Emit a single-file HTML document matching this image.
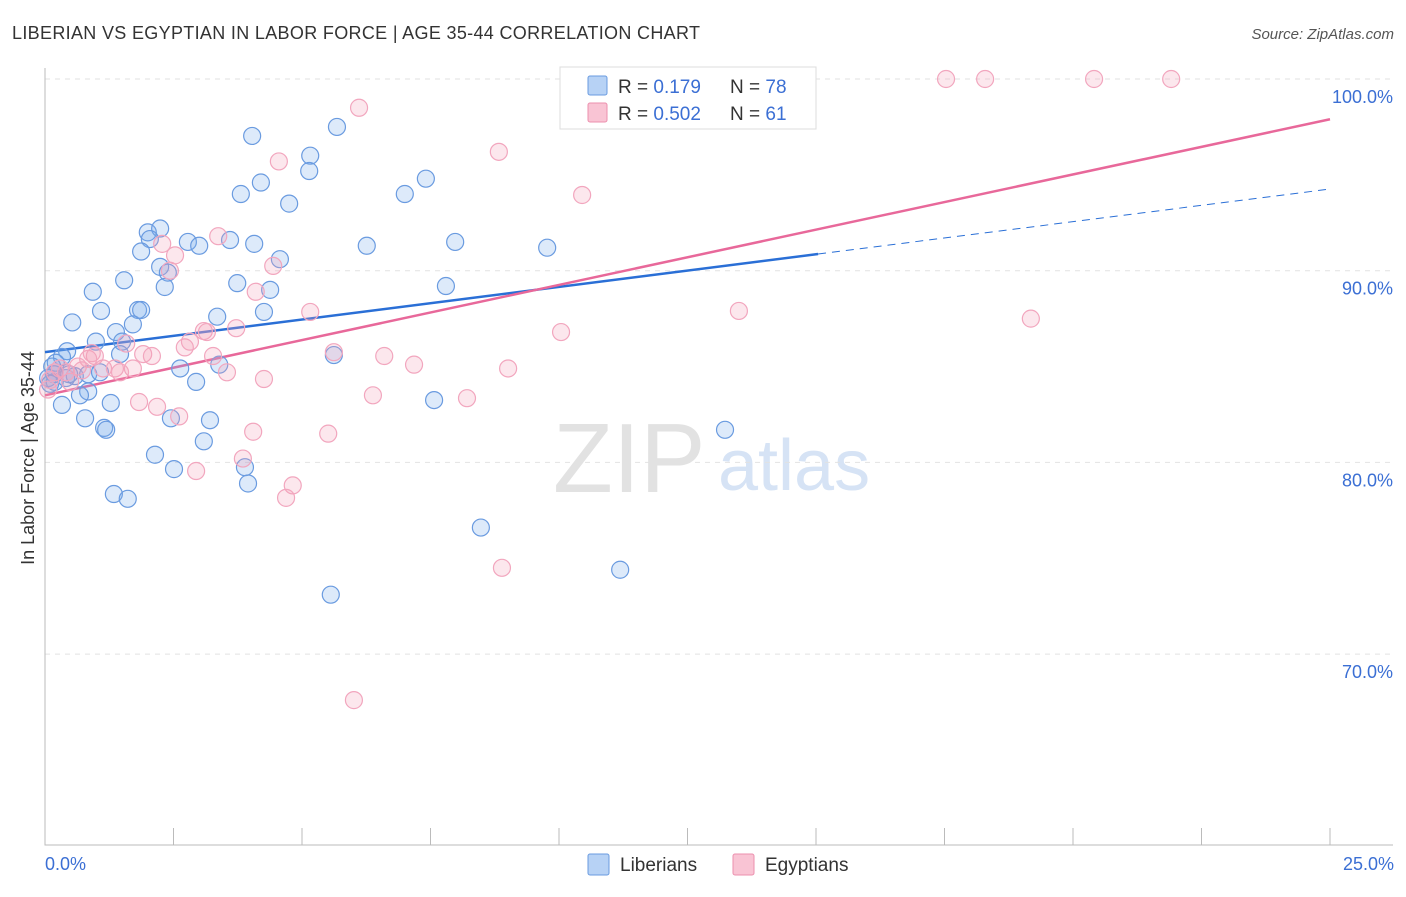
<!DOCTYPE html>
<html><head><meta charset="utf-8"><style>
body{margin:0;background:#fff;font-family:"Liberation Sans",sans-serif;}
svg text{font-family:"Liberation Sans",sans-serif;}
</style></head><body>
<svg id="chart" width="1406" height="892" xmlns="http://www.w3.org/2000/svg">
<text x="12" y="39" font-size="18" fill="#333" textLength="688">LIBERIAN VS EGYPTIAN IN LABOR FORCE | AGE 35-44 CORRELATION CHART</text>
<text x="1394" y="39" font-size="15" fill="#555" font-style="italic" text-anchor="end">Source: ZipAtlas.com</text>
<text x="553" y="492" font-size="98" fill="#e2e2e2" font-family="Liberation Serif">ZIP</text>
<text x="718" y="490" font-size="72" fill="#d6e3f5">atlas</text>
<g id="grid"></g><g id="axes"></g><g id="trends"></g><g id="pts"></g>
<text x="34" y="458" font-size="18" fill="#333" text-anchor="middle" transform="rotate(-90 34 458)">In Labor Force | Age 35-44</text>
<text x="45" y="870" font-size="18" fill="#3b6fd4">0.0%</text>
<text x="1394" y="870" font-size="18" fill="#3b6fd4" text-anchor="end">25.0%</text>
<g>
<rect x="560" y="67" width="256" height="62" fill="#fff" stroke="#ddd"/>
<rect x="588" y="76" width="19" height="19" fill="#b7d2f5" stroke="#6a9be0" rx="2"/>
<rect x="588" y="103" width="19" height="19" fill="#f9c4d4" stroke="#ec8fae" rx="2"/>
<text x="618" y="93" font-size="19" fill="#333">R = <tspan fill="#3b6fd4"> 0.179</tspan><tspan x="730">N = </tspan><tspan fill="#3b6fd4">78</tspan></text>
<text x="618" y="120" font-size="19" fill="#333">R = <tspan fill="#3b6fd4">0.502</tspan><tspan x="730">N = </tspan><tspan fill="#3b6fd4"> 61</tspan></text>
</g>
<g>
<rect x="588" y="854" width="21" height="21" fill="#b7d2f5" stroke="#6a9be0" rx="2"/>
<text x="620" y="871" font-size="19" fill="#333">Liberians</text>
<rect x="733" y="854" width="21" height="21" fill="#f9c4d4" stroke="#ec8fae" rx="2"/>
<text x="765" y="871" font-size="19" fill="#333">Egyptians</text>
</g>
</svg>
<script>
const yTicks=[100,90,80,70];
const yTickLabels=["100.0%","90.0%","80.0%","70.0%"];
const xTicks=[0,2.5,5,7.5,10,12.5,15,17.5,20,22.5,25];
const libX=[4.03,5.68,5.16,5.14,4.20,3.81,4.75,7.00,7.41,2.00,2.24,2.04,2.78,3.00,1.87,3.60,4.07,6.26,7.98,9.77,4.57,2.24,2.39,1.54,2.33,3.74,4.38,7.80,0.93,1.09,1.81,1.87,3.35,4.26,0.53,1.71,1.38,0.99,1.50,1.46,5.62,0.43,0.33,0.21,0.14,0.18,0.19,0.41,0.58,0.84,1.07,2.63,3.39,2.94,1.28,0.84,0.68,0.33,0.78,2.45,3.21,1.15,1.19,3.09,2.14,2.51,3.89,3.95,1.34,1.61,7.57,13.23,8.48,11.19,5.56,0.47,0.06,0.10];
const libY=[97.03,97.5,96.0,95.2,94.6,94.0,93.5,94.0,94.8,92.0,92.2,91.65,91.5,91.3,91.0,91.6,91.4,91.3,91.5,91.2,90.6,90.2,89.9,89.5,89.15,89.35,89.0,89.2,88.9,87.9,87.95,87.95,87.6,87.85,87.3,87.2,86.8,86.3,86.3,85.65,85.6,85.8,85.5,85.2,85.0,84.6,84.2,84.4,84.5,84.6,84.7,84.9,85.1,84.2,83.1,83.7,83.5,83.0,82.3,82.3,82.2,81.8,81.7,81.1,80.4,79.65,79.75,78.9,78.35,78.1,83.25,81.7,76.6,74.4,73.1,84.6,84.4,84.1];
const egyX=[6.11,4.55,8.83,10.45,3.37,2.28,2.53,2.43,4.44,4.10,5.16,3.09,3.15,3.72,2.72,2.82,1.58,1.91,2.08,3.27,5.62,6.60,7.18,9.01,10.04,13.50,19.18,3.54,4.26,0.97,0.84,0.64,1.13,1.36,1.71,0.29,0.19,0.10,0.49,0.06,1.83,2.18,2.61,6.38,8.21,4.05,5.51,3.85,2.94,4.82,4.69,8.89,6.01,17.53,18.29,20.41,21.91,0.91,0.72,0.41,1.46];
const egyY=[98.5,95.7,96.2,93.95,91.8,91.4,90.8,90.0,90.25,88.9,87.85,86.85,86.8,87.0,86.0,86.3,86.2,85.65,85.55,85.55,85.75,85.55,85.1,84.9,86.8,87.9,87.5,84.7,84.35,85.55,85.4,85.0,84.9,84.9,84.9,84.9,84.7,84.3,84.2,83.8,83.15,82.9,82.4,83.5,83.35,81.6,81.5,80.2,79.55,78.8,78.15,74.5,67.6,100,100,100,100,85.7,84.8,84.7,84.7];
const libTrend=[85.75,94.26]; const libSolidEnd=15.04;
const egyTrend=[83.5,97.9];
const NS="http://www.w3.org/2000/svg";
const X0=45,X1=1330,Y100=79,PX10=191.7;
const xs=v=>X0+(X1-X0)*v/25;
const ys=v=>Y100+(100-v)*PX10/10;
function mk(t,a,p){const e=document.createElementNS(NS,t);for(const k in a)e.setAttribute(k,a[k]);p.appendChild(e);return e;}
const grid=document.getElementById('grid'),axes=document.getElementById('axes');
yTicks.forEach((v,i)=>{
 const l=mk('line',{x1:X0,x2:X1+63,y1:ys(v),y2:ys(v),stroke:'#e2e2e2','stroke-dasharray':'5,5'},grid);
 
 
 const t=mk('text',{x:1393,y:ys(v)+24,'font-size':18,fill:'#3b6fd4','text-anchor':'end'},grid);
 t.textContent=yTickLabels[i];
 
 
});
const ax=mk('path',{d:`M${X0} 68V845H${X1+63}`,fill:'none',stroke:'#bbb'},axes);


xTicks.forEach(v=>{
 const t=mk('line',{x1:xs(v),x2:xs(v),y1:828,y2:845,stroke:'#bbb'},axes);
 
 
});
const tr=document.getElementById('trends');
const lb=mk('line',{x1:xs(0),y1:ys(libTrend[0]),x2:xs(libSolidEnd),y2:ys(libTrend[0]+(libTrend[1]-libTrend[0])*libSolidEnd/25),stroke:'#2a6fd6','stroke-width':2.5},tr);


const ld=mk('line',{x1:xs(libSolidEnd),y1:ys(libTrend[0]+(libTrend[1]-libTrend[0])*libSolidEnd/25),x2:xs(25),y2:ys(libTrend[1]),stroke:'#2a6fd6','stroke-width':1,'stroke-dasharray':'8,6'},tr);


const le=mk('line',{x1:xs(0),y1:ys(egyTrend[0]),x2:xs(25),y2:ys(egyTrend[1]),stroke:'#e8689a','stroke-width':2.5},tr);


const pts=document.getElementById('pts');
libX.forEach((v,i)=>{
 const c=mk('circle',{cx:xs(v),cy:ys(libY[i]),r:8.5,fill:'rgba(120,170,235,0.25)',stroke:'#6a9be0','stroke-width':1.2},pts);
 
 
});
egyX.forEach((v,i)=>{
 const c=mk('circle',{cx:xs(v),cy:ys(egyY[i]),r:8.5,fill:'rgba(245,160,185,0.25)',stroke:'#f2a6be','stroke-width':1.2},pts);
 
 
});
</script>
</body></html>
